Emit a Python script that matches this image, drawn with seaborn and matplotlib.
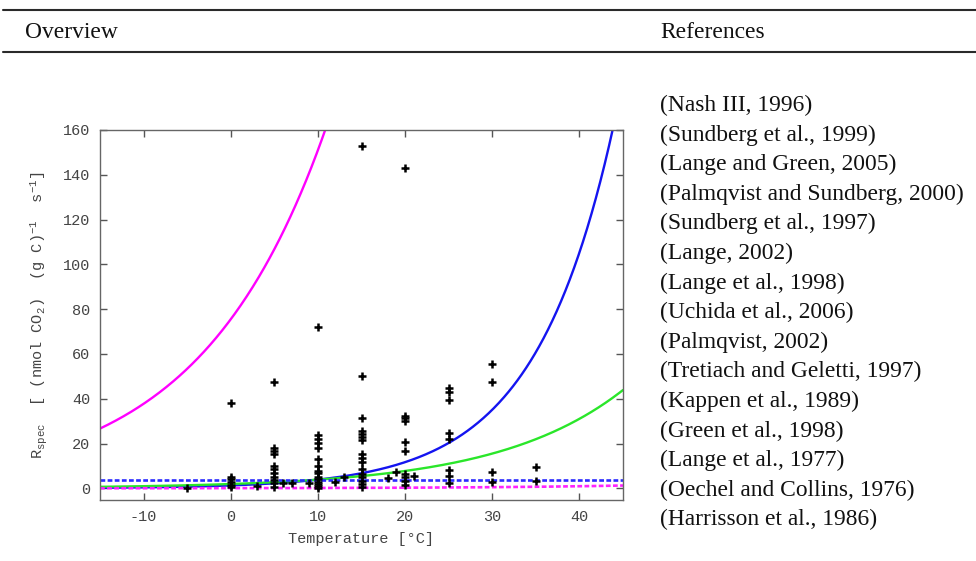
import numpy as np
import pandas as pd
import matplotlib
matplotlib.use("Agg")
import matplotlib.pyplot as plt
import seaborn as sns

# ---- measured specific respiration (temperature in degC, R_spec) ----
obs_temp = (
    [-5]
    + [0] * 6
    + [3]
    + [5] * 11
    + [6, 7, 9]
    + [10] * 15
    + [12, 13]
    + [15] * 16
    + [18, 19]
    + [20] * 10
    + [21]
    + [25] * 8
    + [30] * 4
    + [35] * 2
)
obs_resp = (
    [0.3]
    + [38.2, 5.2, 4.3, 3.0, 1.5, 0.5]
    + [1.0]
    + [47.6, 17.9, 16.7, 15.2, 10.1, 8.6, 6.7, 5.2, 3.7, 2.2, 0.7]
    + [2.2, 2.5, 2.2]
    + [71.9, 23.8, 21.9, 20.1, 18.1, 12.9, 10.0, 7.9, 6.7, 5.2, 4.0, 3.0, 2.0, 1.0, 0.3]
    + [2.7, 5.2]
    + [152.8, 50.1, 31.5, 25.7, 24.3, 23.0, 21.6, 15.2, 13.5, 11.7, 8.5, 6.6, 4.9, 3.3, 1.9, 0.7]
    + [4.4, 7.2]
    + [143.1, 32.5, 31.2, 30.0, 20.8, 16.5, 6.5, 5.0, 3.3, 1.5]
    + [5.3]
    + [44.6, 43.2, 39.4, 24.6, 22.1, 8.2, 5.5, 2.4]
    + [55.3, 47.3, 7.1, 2.7]
    + [9.4, 3.1]
)

# ---- model curves: R(T) = R_ref * Q10 ** ((T - T_ref) / 10) ----
curve_names = ["magenta", "blue", "green", "blue_const", "magenta_low"]
curve_r_ref = [75.5, 3.9, 1.94, 3.7, 0.09]      # value at T_ref
curve_t_ref = [0.0, 10.0, 0.0, 0.0, 0.0]
curve_q10 = [2.0, 3.0, 2.0, 1.0, 1.8]
curve_colors = ["#ff00ff", "#1414f0", "#2ae62a", "#2a2aff", "#ff22ff"]
curve_dashed = [False, False, False, True, True]

references = [
    "(Nash III, 1996)",
    "(Sundberg et al., 1999)",
    "(Lange and Green, 2005)",
    "(Palmqvist and Sundberg, 2000)",
    "(Sundberg et al., 1997)",
    "(Lange, 2002)",
    "(Lange et al., 1998)",
    "(Uchida et al., 2006)",
    "(Palmqvist, 2002)",
    "(Tretiach and Geletti, 1997)",
    "(Kappen et al., 1989)",
    "(Green et al., 1998)",
    "(Lange et al., 1977)",
    "(Oechel and Collins, 1976)",
    "(Harrisson et al., 1986)",
]

x_ticks = [-10, 0, 10, 20, 30, 40]
y_ticks = [0, 20, 40, 60, 80, 100, 120, 140, 160]

sns.set_theme(style="white")
plt.rcParams["font.family"] = ["Liberation Mono", "DejaVu Sans Mono"]
plt.rcParams["mathtext.fontset"] = "custom"
plt.rcParams["mathtext.rm"] = "Liberation Mono"
plt.rcParams["mathtext.it"] = "Liberation Mono"
plt.rcParams["axes.unicode_minus"] = False

W, H = 976, 561
fig = plt.figure(figsize=(W / 100, H / 100), dpi=100)
fig.patch.set_facecolor("white")


def fx(px):
    return px / W


def fy(py):
    return 1 - py / H


# table header rules and captions
line_kw = dict(color="#2a2a2a", linewidth=1.5, transform=fig.transFigure)
fig.add_artist(plt.Line2D([fx(3), fx(976)], [fy(10), fy(10)], **line_kw))
fig.add_artist(plt.Line2D([fx(3), fx(976)], [fy(52), fy(52)], **line_kw))
serif = ["Liberation Serif", "DejaVu Serif"]
fig.text(fx(25), fy(38), "Overview", family=serif, fontsize=16.9, color="#111111", va="baseline")
fig.text(fx(660), fy(38), "References", family=serif, fontsize=16.9, color="#111111", va="baseline")

for i, ref in enumerate(references):
    fig.text(fx(660), fy(111 + i * 29.6), ref, family=serif, fontsize=16.9,
             color="#111111", va="baseline")

# plot panel
ax = fig.add_axes([fx(100), fy(500), fx(623) - fx(100), fy(130) - fy(500)])
ax.set_facecolor("white")

t_grid = np.linspace(-15, 45, 600)
for name, r0, t0, q, col, dashed in zip(curve_names, curve_r_ref, curve_t_ref,
                                        curve_q10, curve_colors, curve_dashed):
    df = pd.DataFrame({"T": t_grid, "R": r0 * q ** ((t_grid - t0) / 10.0)})
    l = sns.lineplot(data=df, x="T", y="R", color=col,
                     linewidth=1.9 if dashed else 1.7, ax=ax,
                     zorder=2, estimator=None, sort=False)
    if dashed:
        l.lines[-1].set_dashes((1.8, 0.9))

obs = pd.DataFrame({"T": obs_temp, "R": obs_resp})
sns.scatterplot(data=obs, x="T", y="R", marker="+", color="black", s=38,
                linewidth=1.8, ax=ax, zorder=3)

ax.set_xlim(-15, 45)
ax.set_ylim(-5.2, 160)
ax.set_xticks(x_ticks)
ax.set_yticks(y_ticks)
ax.tick_params(direction="in", length=5, width=1, color="#555555",
               top=True, right=True, bottom=True, left=True,
               labelsize=11, labelcolor="#444444", pad=7)
for s in ax.spines.values():
    s.set_color("#666666")
    s.set_linewidth(1.0)

ax.set_xlabel("Temperature [°C]", fontsize=11, color="#444444", labelpad=6)
ax.set_ylabel(r"R$_{\rm spec}$  [ (nmol CO$_2$)  (g C)$^{-1}$  s$^{-1}$]",
              fontsize=11, color="#444444", labelpad=10)

fig.savefig("out.png", dpi=100, facecolor="white")
